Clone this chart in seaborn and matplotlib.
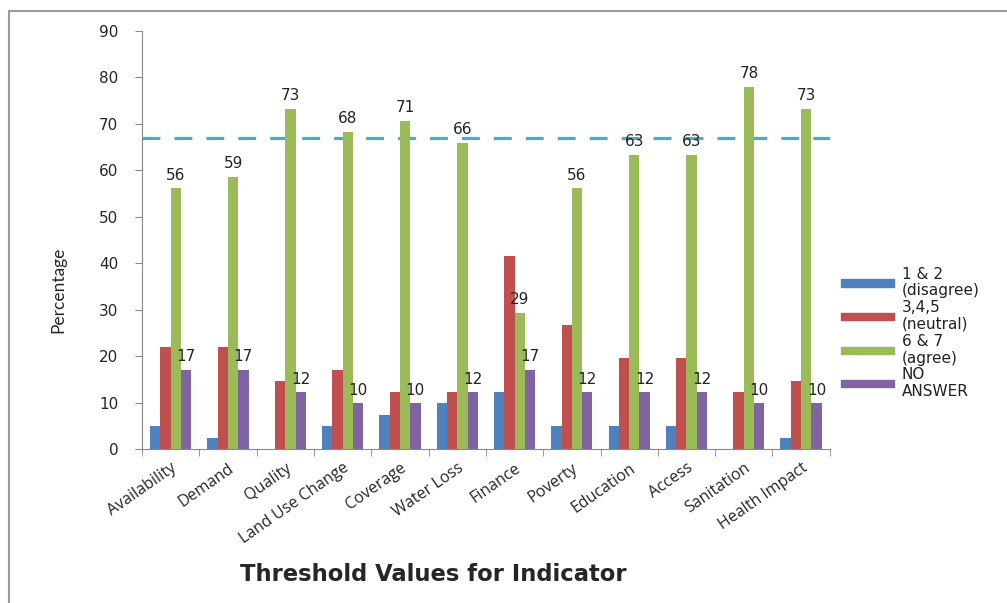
import pandas as pd
import matplotlib.pyplot as plt
import seaborn as sns
from matplotlib.lines import Line2D

indicators = ['Availability', 'Demand', 'Quality', 'Land Use Change', 'Coverage',
              'Water Loss', 'Finance', 'Poverty', 'Education', 'Access',
              'Sanitation', 'Health Impact']
series = ['1 & 2\n(disagree)', '3,4,5\n(neutral)', '6 & 7\n(agree)', 'NO\nANSWER']

disagree = [4.9, 2.4, 0, 4.9, 7.3, 9.8, 12.2, 4.9, 4.9, 4.9, 0, 2.4]
neutral = [22.0, 22.0, 14.6, 17.1, 12.2, 12.2, 41.5, 26.8, 19.5, 19.5, 12.2, 14.6]
agree = [56.1, 58.6, 73.2, 68.3, 70.7, 65.9, 29.3, 56.1, 63.4, 63.4, 78.0, 73.2]
no_answer = [17.1, 17.1, 12.2, 9.8, 9.8, 12.2, 17.1, 12.2, 12.2, 12.2, 9.8, 9.8]
threshold = 67

colors = ['#4F81BD', '#C0504D', '#9BBB59', '#8064A2']

df = pd.DataFrame({'Indicator': indicators, series[0]: disagree, series[1]: neutral,
                   series[2]: agree, series[3]: no_answer})
long_df = df.melt(id_vars='Indicator', var_name='Rating', value_name='Percentage')

sns.set_style('white')
fig = plt.figure(figsize=(10.07, 6.03), dpi=100)
ax = fig.add_axes([0.141, 0.2554, 0.683, 0.6932])

sns.barplot(data=long_df, x='Indicator', y='Percentage', hue='Rating',
            hue_order=series, palette=colors, width=0.72, ax=ax,
            errorbar=None, legend=False, saturation=1, linewidth=0)

# labels only on the agree and no-answer bars
for i, cont in enumerate(ax.containers):
    if i in (2, 3):
        ax.bar_label(cont, labels=[f'{v:.0f}' for v in cont.datavalues],
                     padding=4, fontsize=11, family='DejaVu Sans', color='#222222')

ax.axhline(threshold, color='#4BACC6', lw=2.3, linestyle=(0, (5.6, 4.4)), zorder=0.5)

ax.set_ylim(0, 90)
ax.set_xlim(-0.5, len(indicators) - 0.5)
ax.set_yticks(range(0, 91, 10))
ax.tick_params(axis='y', labelsize=11, length=5, direction='out', color='#888888',
               left=True, pad=12)
for t in ax.get_yticklabels():
    t.set_family('DejaVu Sans')
ax.set_xticks(range(len(indicators)))
ax.set_xticklabels(indicators, rotation=35, ha='right', rotation_mode='anchor',
                   fontsize=11.5, family='Open Sans')
ax.set_xticks([i - 0.5 for i in range(len(indicators) + 1)], minor=True)
ax.tick_params(axis='x', which='major', length=0, pad=8)
ax.tick_params(axis='x', which='minor', length=5, direction='out', color='#888888', bottom=True)

ax.set_xlabel('')
ax.set_ylabel('')
for s in ['top', 'right']:
    ax.spines[s].set_visible(False)
for s in ['left', 'bottom']:
    ax.spines[s].set_color('#888888')

fig.text(0.058, 0.52, 'Percentage', rotation=90, fontsize=12.5, family='Lato',
         ha='center', va='center')
fig.text(0.43, 0.048, 'Threshold Values for Indicator', fontsize=16.3,
         family='DejaVu Sans', weight='bold', ha='center', va='center')

handles = [plt.Rectangle((0, 0), 1, 1, color=c) for c in colors]
leg = fig.legend(handles, series, loc='center left', bbox_to_anchor=(0.835, 0.448),
                 frameon=False, handlelength=3.5, handleheight=0.35,
                 labelspacing=0.12, handletextpad=0.5, borderpad=0, borderaxespad=0,
                 prop={'family': 'DejaVu Sans', 'size': 11})
for t in leg.get_texts():
    t.set_linespacing(1.15)
    t.set_color('#222222')

# outer frame lines (left and top)
fig.add_artist(Line2D([0.009, 0.009], [0, 0.982], color='#999999', lw=1.5))
fig.add_artist(Line2D([0.009, 1], [0.982, 0.982], color='#999999', lw=1.5))

fig.savefig('out.png', dpi=100)
